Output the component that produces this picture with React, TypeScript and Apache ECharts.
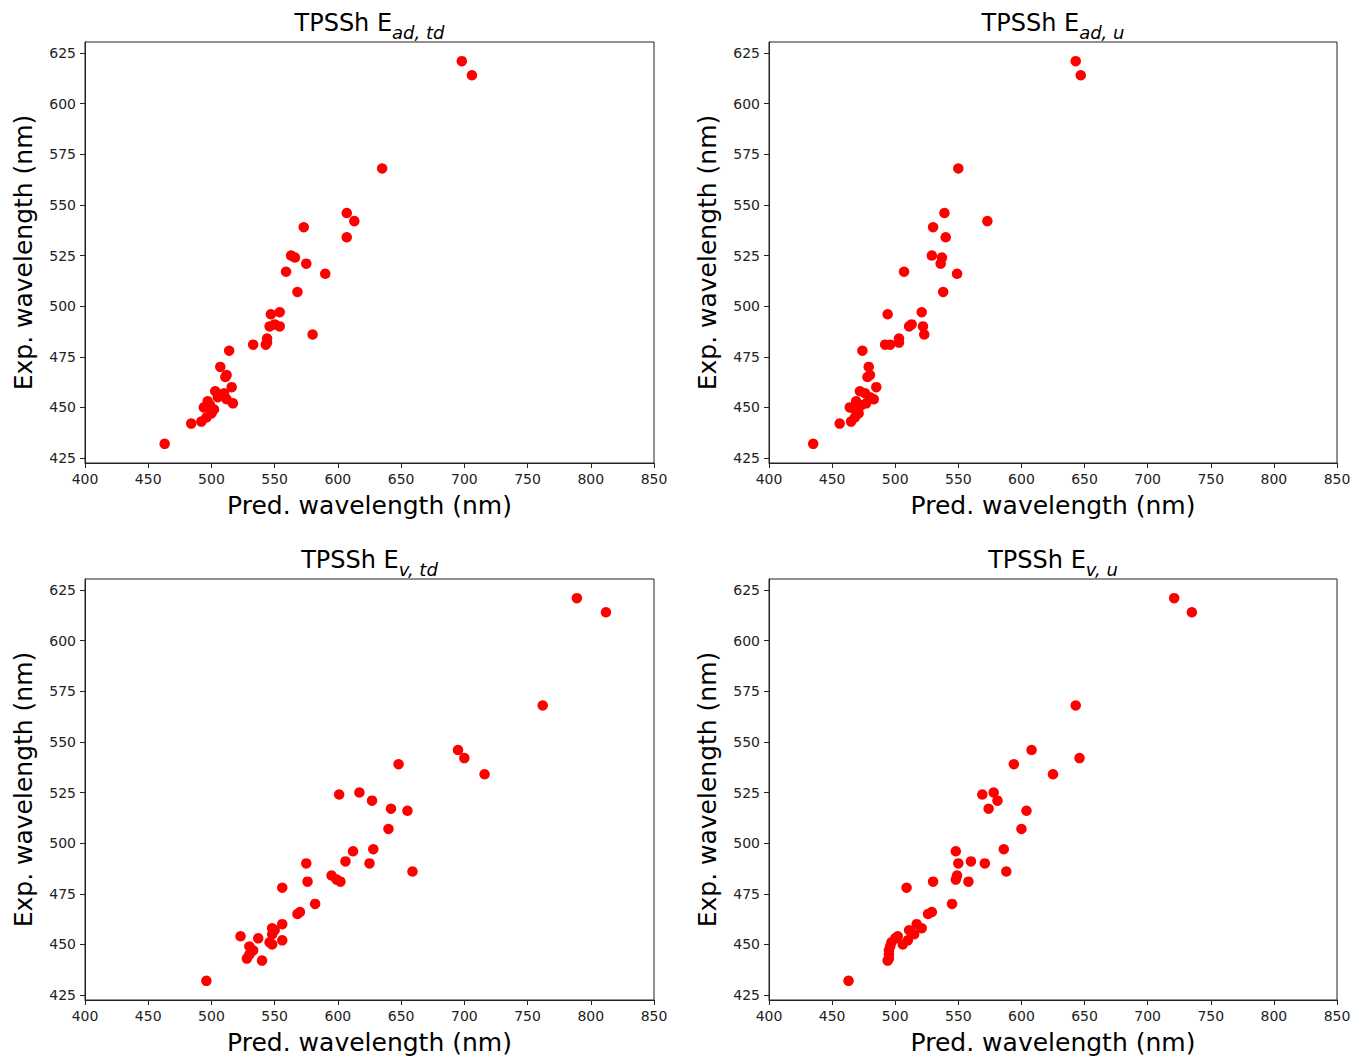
import React, { useEffect, useRef } from "react";
import * as echarts from "echarts";

const expWavelength = [
  432, 442, 443, 445, 447, 449, 450, 451, 452, 453, 454, 455, 457, 458, 460, 465, 466, 470, 478, 481, 481,
  482, 484, 486, 490, 490, 491, 496, 497, 507, 516, 517, 521, 524, 525, 534, 539, 542, 546, 568, 614, 621,
];

const predAdTd = [
  463, 484, 492, 496, 500, 502, 494, 499, 517, 497, 512, 505, 510, 503, 516, 511, 512, 507, 514, 533, 543,
  544, 544, 580, 546, 554, 550, 547, 554, 568, 590, 559, 575, 566, 563, 607, 573, 613, 607, 635, 706, 698,
];

const predAdU = [
  435, 456, 465, 468, 471, 468, 464, 473, 477, 469, 483, 480, 476, 472, 485, 478, 480, 479, 474, 492, 496,
  503, 503, 523, 511, 522, 513, 494, 521, 538, 549, 507, 536, 537, 529, 540, 530, 573, 539, 550, 647, 643,
];

const predVTd = [
  496, 540, 528, 530, 533, 530, 548, 546, 556, 537, 523, 548, 550, 548, 556, 568, 570, 582, 556, 576, 602,
  599, 595, 659, 575, 625, 606, 612, 628, 640, 655, 642, 627, 601, 617, 716, 648, 700, 695, 762, 812, 789,
];

const predVU = [
  463, 494, 495, 495, 495, 496, 506, 497, 510, 500, 502, 515, 511, 521, 517, 526, 529, 545, 509, 530, 558,
  548, 549, 588, 550, 571, 560, 548, 586, 600, 604, 574, 581, 569, 578, 625, 594, 646, 608, 643, 735, 721,
];

const yTickValues = [425, 450, 475, 500, 525, 550, 575, 600, 625];
const panelSubscripts = ["ad, td", "ad, u", "v, td", "v, u"];
const panelPreds = [predAdTd, predAdU, predVTd, predVU];

const FONT = "DejaVu Sans";

export default function App() {
  const ref = useRef<HTMLDivElement>(null);
  useEffect(() => {
    if (!ref.current) return;
    const chart = echarts.init(ref.current, undefined, { renderer: "svg" });
    const eMin = Math.min(...expWavelength);
    const eMax = Math.max(...expWavelength);
    const pad = (eMax - eMin) * 0.05;
    const grids = [
      { left: 85, top: 42, width: 569, height: 421 },
      { left: 769, top: 42, width: 568, height: 421 },
      { left: 85, top: 579, width: 569, height: 421 },
      { left: 769, top: 579, width: 568, height: 421 },
    ];
    const axisColor = "#222";
    const option: any = {
      animation: false,
      backgroundColor: "#fff",
      grid: grids.map((g) => ({ ...g, show: true, borderColor: axisColor, borderWidth: 1, containLabel: false })),
      xAxis: grids.map((_, i) => ({
        type: "value",
        gridIndex: i,
        min: 400,
        max: 850,
        interval: 50,
        name: "Pred. wavelength (nm)",
        nameLocation: "middle",
        nameGap: 30,
        nameTextStyle: { fontFamily: FONT, fontSize: 25, color: "#000" },
        axisLine: { show: true, lineStyle: { color: axisColor } },
        axisTick: { show: true, length: 5, lineStyle: { color: axisColor } },
        axisLabel: { fontFamily: FONT, fontSize: 14, color: "#222", margin: 9 },
        splitLine: { show: false },
      })),
      yAxis: grids.map((_, i) => ({
        type: "value",
        gridIndex: i,
        min: eMin - pad,
        max: eMax + pad,
        name: "Exp. wavelength (nm)",
        nameLocation: "middle",
        nameGap: 49,
        nameTextStyle: { fontFamily: FONT, fontSize: 25, color: "#000" },
        axisLine: { show: true, lineStyle: { color: axisColor } },
        axisTick: { show: true, length: 5, customValues: yTickValues, lineStyle: { color: axisColor } },
        axisLabel: { fontFamily: FONT, fontSize: 14, color: "#222", margin: 9, customValues: yTickValues },
        splitLine: { show: false },
      })),
      series: panelPreds.map((pred, i) => ({
        type: "scatter",
        xAxisIndex: i,
        yAxisIndex: i,
        symbolSize: 10.5,
        itemStyle: { color: "#ff0000", opacity: 1 },
        data: pred.map((p, k) => [p, expWavelength[k]]),
      })),
      graphic: grids.map((g, i) => ({
        type: "text",
        x: g.left + g.width / 2,
        y: g.top - 19,
        style: {
          text: `{m|TPSSh E}{s|${panelSubscripts[i]}}`,
          align: "center",
          verticalAlign: "middle",
          rich: {
            m: { fontFamily: FONT, fontSize: 24, fill: "#000", lineHeight: 36, verticalAlign: "middle" },
            s: { fontFamily: FONT, fontSize: 18, fontStyle: "italic", fill: "#000", lineHeight: 36, verticalAlign: "bottom" },
          },
        },
      })),
    };
    chart.setOption(option);
    return () => chart.dispose();
  }, []);
  return <div ref={ref} style={{ position: "absolute", left: 0, top: 0, width: 1354, height: 1056 }} />;
}
